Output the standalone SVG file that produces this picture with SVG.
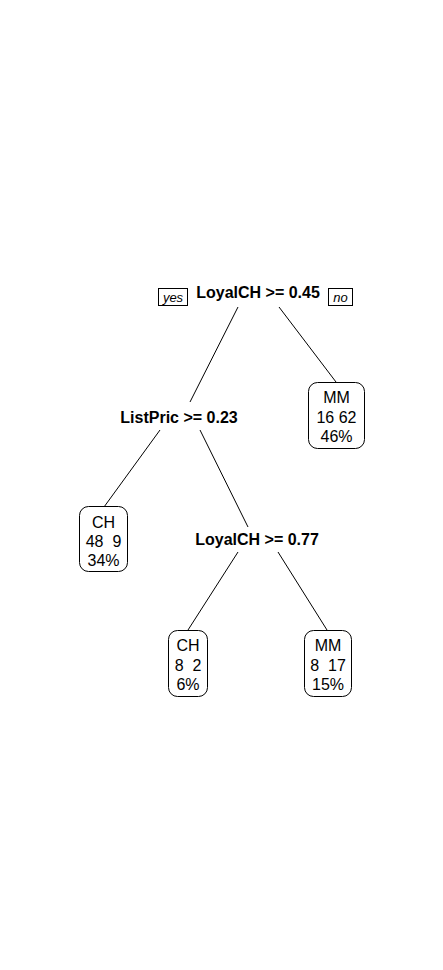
<svg xmlns="http://www.w3.org/2000/svg" width="443" height="970" viewBox="0 0 443 970">
<style>
.split{font-family:"Liberation Sans",Arial,sans-serif;font-weight:bold;font-size:16px;text-anchor:middle;fill:#000}
.leaf{font-family:"Liberation Sans",Arial,sans-serif;font-size:16px;text-anchor:middle;fill:#000;white-space:pre}
.lab{font-family:"Liberation Sans",Arial,sans-serif;font-style:italic;font-size:13px;text-anchor:middle;fill:#000}
.box{fill:#fff;stroke:#000;stroke-width:1}
.edge{stroke:#000;stroke-width:1;fill:none}
</style>
<rect width="443" height="970" fill="#fff"/>
<g id="connectors">
<line class="edge" x1="238" y1="307" x2="190" y2="402"/>
<line class="edge" x1="279" y1="307" x2="336" y2="382"/>
<line class="edge" x1="160" y1="430" x2="104" y2="507"/>
<line class="edge" x1="200" y1="430" x2="248" y2="527"/>
<line class="edge" x1="238" y1="552" x2="188" y2="630"/>
<line class="edge" x1="278" y1="552" x2="327" y2="630"/>
</g>
<g id="root">
<text class="split" x="258" y="298">LoyalCH &gt;= 0.45</text>
<rect class="box" x="158.5" y="288.5" width="29" height="17"/>
<text class="lab" x="173" y="302">yes</text>
<rect class="box" x="328.5" y="288.5" width="24" height="17"/>
<text class="lab" x="340.5" y="302">no</text>
</g>
<g id="leaf-mm-1">
<rect class="box" x="308.5" y="382.5" width="56" height="66" rx="9"/>
<text class="leaf" x="336.5" y="403">MM</text>
<text class="leaf" x="336.5" y="423" xml:space="preserve">16 62</text>
<text class="leaf" x="336.5" y="442">46%</text>
</g>
<g id="split-listpric">
<text class="split" x="179" y="423">ListPric &gt;= 0.23</text>
</g>
<g id="leaf-ch-1">
<rect class="box" x="79.5" y="506.5" width="48" height="65" rx="9"/>
<text class="leaf" x="103.5" y="528">CH</text>
<text class="leaf" x="103.5" y="547" xml:space="preserve">48  9</text>
<text class="leaf" x="103.5" y="566">34%</text>
</g>
<g id="split-loyalch2">
<text class="split" x="257" y="545">LoyalCH &gt;= 0.77</text>
</g>
<g id="leaf-ch-2">
<rect class="box" x="168.5" y="630.5" width="39" height="66" rx="9"/>
<text class="leaf" x="188" y="651">CH</text>
<text class="leaf" x="188" y="671" xml:space="preserve">8  2</text>
<text class="leaf" x="188" y="690">6%</text>
</g>
<g id="leaf-mm-2">
<rect class="box" x="304.5" y="630.5" width="47" height="66" rx="9"/>
<text class="leaf" x="328" y="651">MM</text>
<text class="leaf" x="328" y="671" xml:space="preserve">8  17</text>
<text class="leaf" x="328" y="690">15%</text>
</g>
</svg>
